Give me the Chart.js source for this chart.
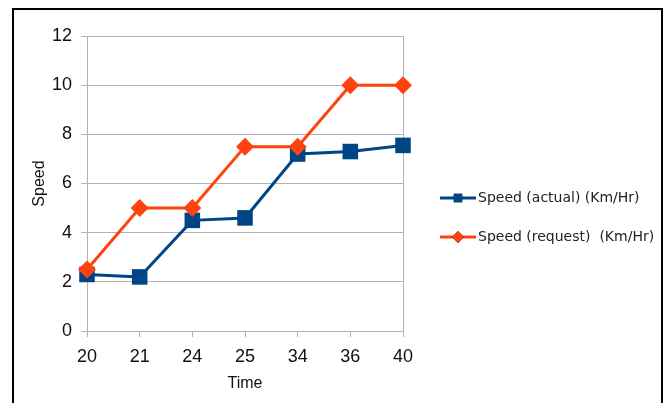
<!DOCTYPE html>
<html>
<head>
<meta charset="utf-8">
<script src="https://cdn.jsdelivr.net/npm/chart.js@4/dist/chart.umd.min.js"></script>
<style>
  html, body { margin: 0; padding: 0; background: #fff; }
  #wrap { position: relative; width: 670px; height: 403px; overflow: hidden; }
  #frame { position: absolute; left: 12px; top: 8px; width: 647px; height: 420px;
           border: 2px solid #000; pointer-events: none; }
</style>
</head>
<body>
<div id="wrap">
  <canvas id="myChart" width="670" height="403"></canvas>
  <div id="frame"></div>
</div>
<script>
let times = ["20", "21", "24", "25", "34", "36", "40"];
let speedActual = [2.3, 2.2, 4.5, 4.6, 7.2, 7.3, 7.55];
let speedRequest = [2.5, 5, 5, 7.5, 7.5, 10, 10];
let yTicks = [0, 2, 4, 6, 8, 10, 12];

const gridGray = '#b3b3b3';
const tickFont = { family: "'Liberation Sans', Arial, sans-serif", size: 18 };

// legend drawn on the right: a short line with the marker in the middle
const sideLegend = {
  id: 'sideLegend',
  afterDraw(chart) {
    const ctx = chart.ctx;
    const rows = [0, 1].map(i => chart.data.datasets.find(d => d.legendIndex === i));
    rows.forEach((ds, i) => {
      const y = 198 + i * 39;
      ctx.save();
      ctx.strokeStyle = ds.borderColor;
      ctx.lineWidth = 3;
      ctx.beginPath();
      ctx.moveTo(440, y);
      ctx.lineTo(476, y);
      ctx.stroke();
      Chart.helpers.drawPoint(ctx, { pointStyle: ds.pointStyle, radius: 6, rotation: 0, borderWidth: 0 }, 458, y);
      ctx.fillStyle = ds.pointBackgroundColor;
      ctx.fill();
      ctx.fillStyle = '#222';
      ctx.font = "14px 'DejaVu Sans', sans-serif";
      ctx.textBaseline = 'middle';
      ctx.fillText(ds.label, 478, y);
      ctx.restore();
    });
  }
};

function createChart() {
  const ctx = document.getElementById('myChart').getContext('2d');
  new Chart(ctx, {
    type: 'line',
    data: {
      labels: times,
      datasets: [{
        label: 'Speed (actual) (Km/Hr)',
        legendIndex: 0,
        data: speedActual,
        borderColor: '#004586',
        backgroundColor: '#004586',
        pointBackgroundColor: '#004586',
        pointBorderColor: '#004586',
        pointStyle: 'rect',
        pointRadius: 11,
        pointBorderWidth: 0,
        borderWidth: 3,
        tension: 0,
        order: 1
      }, {
        label: 'Speed (request)  (Km/Hr)',
        legendIndex: 1,
        data: speedRequest,
        borderColor: '#ff420e',
        backgroundColor: '#ff420e',
        pointBackgroundColor: '#ff420e',
        pointBorderColor: '#ff420e',
        pointStyle: 'rectRot',
        pointRadius: 9,
        pointBorderWidth: 0,
        borderWidth: 3,
        tension: 0,
        order: 0
      }]
    },
    options: {
      responsive: false,
      animation: false,
      layout: { padding: { left: 26, right: 267, top: 36, bottom: 0 } },
      plugins: { legend: { display: false }, tooltip: { enabled: false } },
      scales: {
        x: {
          offset: false,
          afterFit: s => { s.height = 72; },
          grid: {
            color: c => c.index === times.length - 1 ? gridGray : 'transparent',
            tickColor: gridGray,
            tickLength: 6
          },
          border: { color: gridGray },
          ticks: { color: '#111', font: tickFont, padding: 9, maxRotation: 0 },
          title: { display: true, text: 'Time', color: '#111',
                   font: { family: "'Liberation Sans', Arial, sans-serif", size: 16 },
                   padding: { top: 0, bottom: 10 } }
        },
        y: {
          min: 0,
          max: 12,
          afterFit: s => { s.width = 61; },
          afterBuildTicks: s => { s.ticks = yTicks.map(v => ({ value: v })); },
          grid: { color: gridGray, tickColor: gridGray, tickLength: 6 },
          border: { color: gridGray },
          ticks: { color: '#111', font: tickFont, padding: 9 },
          title: { display: true, text: 'Speed', color: '#111',
                   font: { family: "'Liberation Sans', Arial, sans-serif", size: 16 },
                   padding: 4 }
        }
      }
    },
    plugins: [sideLegend]
  });
}

window.onload = createChart;
</script>
</body>
</html>
